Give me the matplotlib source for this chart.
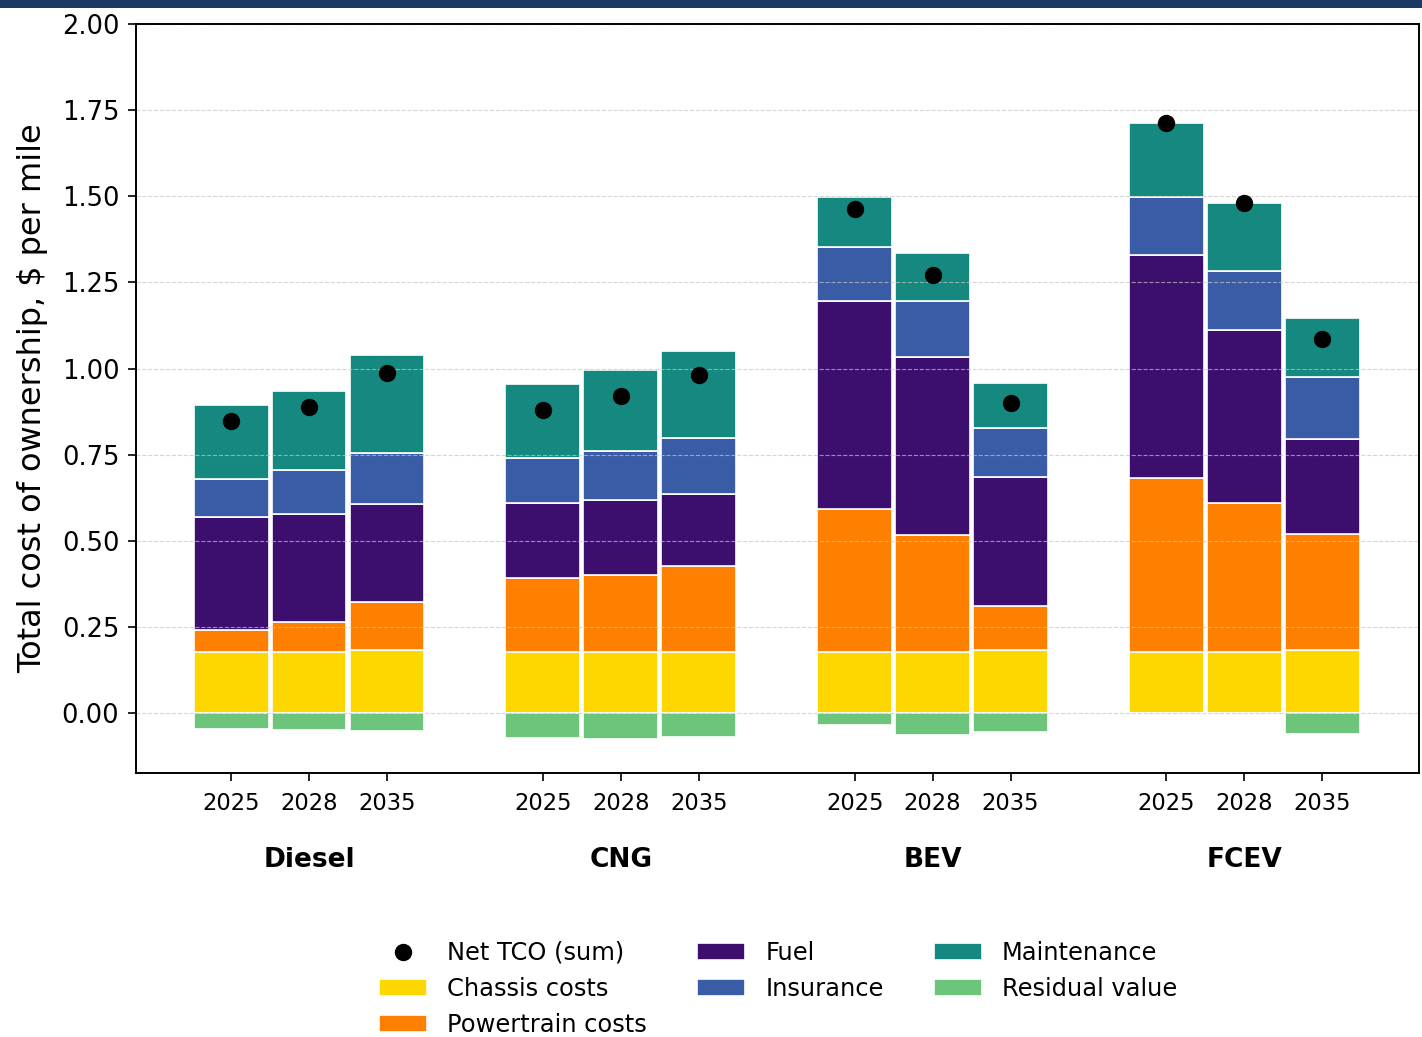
import numpy as np
import matplotlib
matplotlib.use("Agg")
import matplotlib.pyplot as plt
from matplotlib.patches import Rectangle

# Cost components in $ per mile, one value per (fuel type, year) bar
fuel_types = ["Diesel", "CNG", "BEV", "FCEV"]
years = ["2025", "2028", "2035"]

chassis = [0.176, 0.176, 0.183,   0.176, 0.176, 0.178,   0.176, 0.176, 0.184,   0.177, 0.177, 0.183]
powertrain = [0.065, 0.088, 0.140,   0.215, 0.226, 0.249,   0.415, 0.340, 0.126,   0.504, 0.434, 0.338]
fuel = [0.327, 0.313, 0.285,   0.218, 0.216, 0.208,   0.605, 0.518, 0.376,   0.648, 0.501, 0.274]
insurance = [0.112, 0.128, 0.146,   0.132, 0.143, 0.162,   0.158, 0.162, 0.141,   0.168, 0.172, 0.179]
maintenance = [0.213, 0.231, 0.285,   0.213, 0.234, 0.253,   0.144, 0.138, 0.130,   0.215, 0.195, 0.173]
residual = [-0.045, -0.049, -0.051,   -0.073, -0.076, -0.069,   -0.035, -0.063, -0.056,   0.0, 0.0, -0.061]

components = [
    ("Chassis costs", chassis, "#ffd700"),
    ("Powertrain costs", powertrain, "#ff7f00"),
    ("Fuel", fuel, "#3c0f6e"),
    ("Insurance", insurance, "#3a5ba6"),
    ("Maintenance", maintenance, "#15897f"),
]
residual_color = "#6cc57a"

fig = plt.figure(figsize=(14.22, 10.37), dpi=100)
fig.patches.append(Rectangle((0, 1 - 8 / 1037), 1, 8 / 1037, transform=fig.transFigure,
                             facecolor="#1b3a63", edgecolor="none", zorder=0))
ax = fig.add_axes([136 / 1422, 264 / 1037, 1283 / 1422, 749 / 1037])

# bar positions: three years per group, one empty slot between groups
pos = np.array([g * 4 + j for g in range(len(fuel_types)) for j in range(len(years))], dtype=float)
width = 0.96

bottom = np.zeros(len(pos))
handles = {}
for name, vals, color in components:
    vals = np.array(vals)
    handles[name] = ax.bar(pos, vals, width, bottom=bottom, color=color,
                           edgecolor="white", linewidth=1.2, zorder=2)
    bottom += vals
res = np.array(residual)
handles["Residual value"] = ax.bar(pos, res, width, color=residual_color,
                                   edgecolor="white", linewidth=1.2, zorder=2)

net = bottom + res
dots, = ax.plot(pos, net, "o", color="black", markersize=11.5, linestyle="none", zorder=4)

ax.set_xlim(-1.22, 15.24)
ax.set_ylim(-0.174, 2.0)
ax.set_yticks(np.arange(0, 2.01, 0.25))
ax.yaxis.set_major_formatter(matplotlib.ticker.FormatStrFormatter("%.2f"))
ax.grid(axis="y", linestyle="--", color="#c4c4c4", linewidth=0.8, alpha=0.7, zorder=3)
ax.set_axisbelow(False)

ax.set_xticks(pos)
ax.set_xticklabels(years * len(fuel_types))
ax.tick_params(axis="x", labelsize=16.3, length=6, width=1.2, pad=8)
ax.tick_params(axis="y", labelsize=18.5, length=6, width=1.2, pad=6)
for s in ax.spines.values():
    s.set_linewidth(1.4)
    s.set_zorder(5)

ax.set_ylabel("Total cost of ownership, $ per mile", fontsize=23, labelpad=10)

for g, name in enumerate(fuel_types):
    ax.text(g * 4 + 1, 0.1707, name,
            transform=matplotlib.transforms.blended_transform_factory(ax.transData, fig.transFigure),
            ha="center", va="center", fontsize=19, fontweight="bold")

legend_handles = [dots, handles["Chassis costs"], handles["Powertrain costs"], handles["Fuel"],
                  handles["Insurance"], handles["Maintenance"], handles["Residual value"]]
legend_labels = ["Net TCO (sum)", "Chassis costs", "Powertrain costs", "Fuel",
                 "Insurance", "Maintenance", "Residual value"]
ax.legend(legend_handles, legend_labels, ncol=3, frameon=False, fontsize=17.4,
          loc="center", bbox_to_anchor=(778 / 1422, 48 / 1037), bbox_transform=fig.transFigure,
          handlelength=2.0, handleheight=0.66, columnspacing=2.07, labelspacing=0.5,
          handletextpad=0.83, borderpad=0.2)

fig.savefig("out.png", dpi=100)
